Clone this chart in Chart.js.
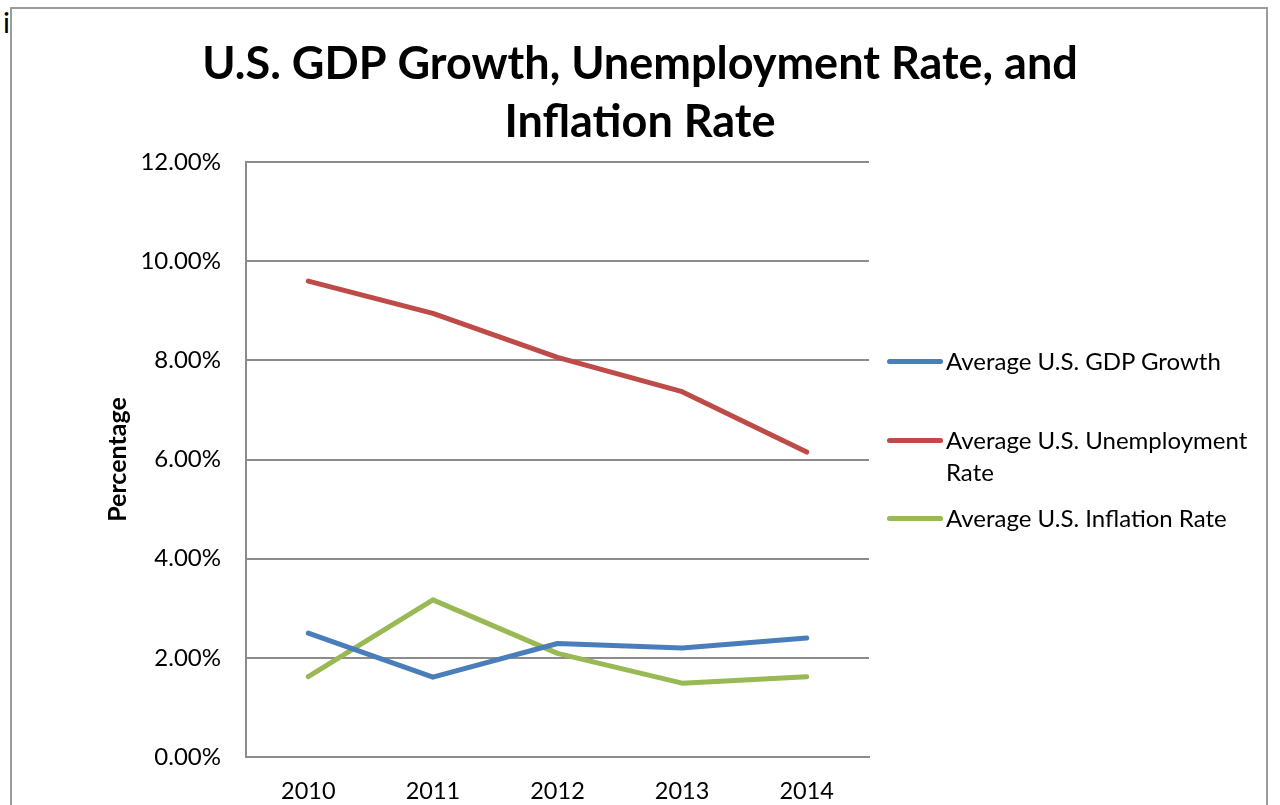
<!DOCTYPE html>
<html>
<head>
<meta charset="utf-8">
<script src="https://cdn.jsdelivr.net/npm/chart.js@4.4.1/dist/chart.umd.min.js"></script>
<style>
  html, body { margin: 0; padding: 0; background: #fff; }
  body { width: 1280px; height: 805px; position: relative; overflow: hidden; font-family: Lato, sans-serif; }
  #frame { position: absolute; left: 10px; top: 7px; width: 1258px; height: 900px; border: 2px solid #9c9c9c; box-sizing: border-box; }
  #mark { position: absolute; left: 3px; top: 4px; font-size: 29px; color: #000; }
  #chart { position: absolute; left: 0; top: 0; }
  .legend-item { position: absolute; left: 887px; width: 380px; display: flex; align-items: flex-start; font-size: 24px; line-height: 32px; color: #000; }
  .legend-item .swatch { width: 56px; height: 5px; border-radius: 3px; margin-top: 14px; margin-right: 3px; flex: none; }
  .legend-item .label { width: 320px; }
</style>
</head>
<body>
<div id="frame"></div>
<div id="mark">i</div>
<canvas id="chart" width="1280" height="805"></canvas>
<div id="legend"></div>
<script>
const years = ['2010', '2011', '2012', '2013', '2014']
const gdpGrowth = [2.50, 1.61, 2.29, 2.20, 2.40]
const unemployment = [9.60, 8.95, 8.06, 7.37, 6.15]
const inflation = [1.62, 3.17, 2.09, 1.49, 1.62]
const seriesNames = ['Average U.S. GDP Growth', 'Average U.S. Unemployment Rate', 'Average U.S. Inflation Rate']
const seriesColors = ['#4a7ebb', '#be4b48', '#98b954']
const yTicks = [0, 2, 4, 6, 8, 10, 12]

const font = 'Lato, "Open Sans", sans-serif'
const gridColor = '#8c8c8c'

const makeLine = (i, values) => ({
  label: seriesNames[i],
  data: values,
  borderColor: seriesColors[i],
  backgroundColor: seriesColors[i],
  borderWidth: 5,
  borderCapStyle: 'round',
  borderJoinStyle: 'round',
  pointRadius: 0,
  tension: 0,
})

const chart = new Chart(document.getElementById('chart').getContext('2d'), {
  type: 'line',
  data: {
    labels: years,
    datasets: [makeLine(0, gdpGrowth), makeLine(1, unemployment), makeLine(2, inflation)],
  },
  options: {
    responsive: false,
    animation: false,
    layout: { padding: 0 },
    plugins: {
      legend: { display: false },
      tooltip: { enabled: false },
      title: {
        display: true,
        text: ['U.S. GDP Growth, Unemployment Rate, and', 'Inflation Rate'],
        color: '#000',
        font: { family: font, size: 45, weight: 'bold', lineHeight: 1.29 },
        padding: { top: 35, bottom: 11 },
      },
    },
    scales: {
      x: {
        offset: true,
        grid: { display: false, drawTicks: false },
        border: { display: true, color: gridColor, width: 2 },
        ticks: { color: '#000', padding: 20, font: { family: font, size: 23.5 } },
        afterFit: (s) => { s.height = 48 },
      },
      y: {
        min: 0,
        max: 12,
        afterBuildTicks: (s) => { s.ticks = yTicks.map((v) => ({ value: v })) },
        grid: { color: gridColor, lineWidth: 2, drawTicks: false },
        border: { display: true, color: gridColor, width: 2 },
        ticks: {
          color: '#000',
          padding: 25,
          font: { family: font, size: 24 },
          callback: (v) => v.toFixed(2) + '%',
        },
        title: {
          display: true,
          text: 'Percentage',
          color: '#000',
          font: { family: font, size: 25, weight: 'bold' },
          padding: { top: 103, bottom: 0 },
        },
        afterFit: (s) => { s.width = 246 },
      },
      // empty box on the right to leave room for the legend
      spacer: {
        type: 'linear',
        position: 'right',
        grid: { display: false },
        border: { display: false },
        ticks: { display: false },
        afterFit: (s) => { s.width = 411 },
      },
    },
  },
})

// legend drawn as html so the long label can wrap like the original
const legendTops = [345, 424, 502]
const legend = document.getElementById('legend')
chart.data.datasets.forEach((ds, i) => {
  const item = document.createElement('div')
  item.className = 'legend-item'
  item.style.top = legendTops[i] + 'px'
  const sw = document.createElement('span')
  sw.className = 'swatch'
  sw.style.background = ds.borderColor
  const lbl = document.createElement('span')
  lbl.className = 'label'
  lbl.textContent = ds.label
  item.appendChild(sw)
  item.appendChild(lbl)
  legend.appendChild(item)
})
</script>
</body>
</html>
